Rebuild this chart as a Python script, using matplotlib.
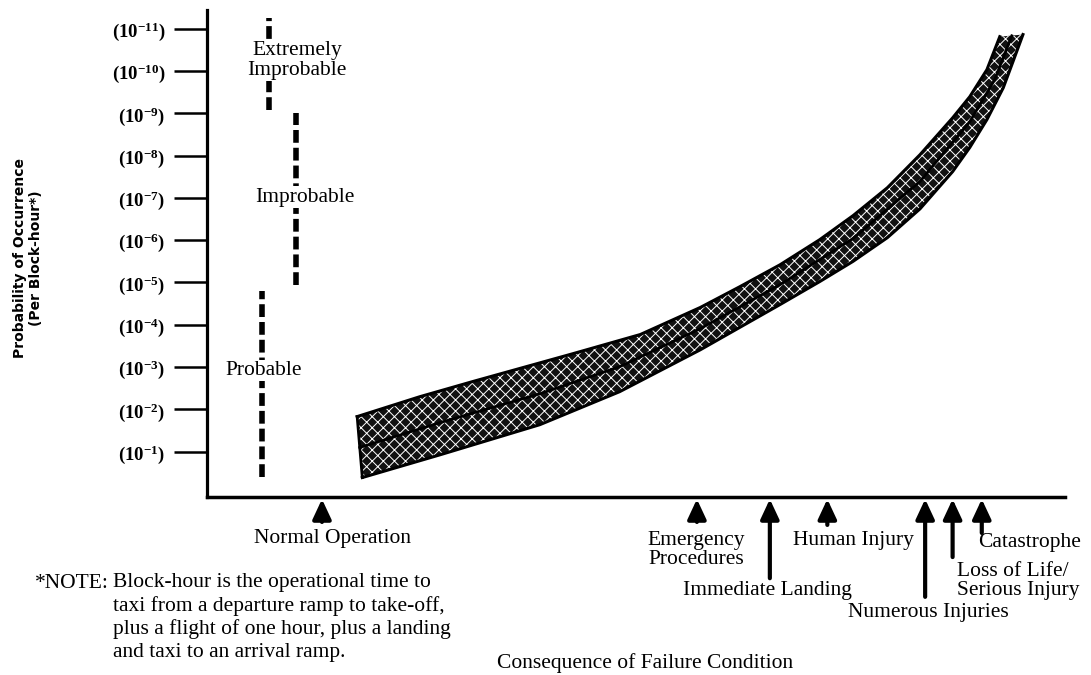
import numpy as np
import matplotlib.pyplot as plt

plt.rcParams['mathtext.fontset'] = 'custom'
plt.rcParams['mathtext.bf'] = 'Liberation Serif:bold'
plt.rcParams['mathtext.rm'] = 'Liberation Serif'
plt.rcParams['hatch.linewidth'] = 0.7

W, H = 1091, 675

# probability levels (exponent k of 10^-k), 1 at bottom .. 11 at top
levels = list(range(1, 12))
level_labels = [r'$\mathbf{(10^{-%d})}$' % k for k in levels]

# band of failure conditions: x = consequence (0..100), y = k
upper_x = [17.5, 24.8, 31.0, 42.7, 50.5, 57.5, 62.1, 66.8, 71.4, 75.3, 79.3, 83.1, 86.9, 88.9, 90.9, 92.4]
upper_k = [1.83, 2.30, 2.66, 3.32, 3.77, 4.41, 4.90, 5.42, 6.01, 6.58, 7.24, 8.02, 8.89, 9.39, 10.03, 10.81]
mid_x = [17.8, 27.2, 38.8, 48.1, 57.5, 66.8, 75.3, 83.1, 88.9, 91.8, 93.8]
mid_k = [1.10, 1.69, 2.37, 3.01, 3.91, 4.95, 6.04, 7.39, 8.80, 9.79, 10.83]
lower_x = [18.1, 27.2, 38.8, 48.1, 57.5, 66.8, 71.4, 75.3, 79.3, 83.1, 86.9, 88.9, 90.9, 92.8, 93.9, 95.1]
lower_k = [0.39, 0.93, 1.64, 2.42, 3.41, 4.48, 5.02, 5.50, 6.06, 6.74, 7.62, 8.19, 8.85, 9.60, 10.20, 10.86]

# probability classes: (label, x, k_bottom, k_top)
class_names = ['Probable', 'Improbable', 'Extremely\nImprobable']
class_x = [6.4, 10.4, 7.2]
class_k0 = [0.40, 4.94, 9.08]
class_k1 = [4.80, 9.00, 11.25]

# consequences along the x axis
conseq_names = ['Normal Operation', 'Emergency\nProcedures', 'Immediate Landing',
                'Human Injury', 'Numerous Injuries', 'Loss of Life/\nSerious Injury',
                'Catastrophe']
conseq_x = [13.4, 57.1, 65.6, 72.3, 83.7, 86.9, 90.3]

fig = plt.figure(figsize=(W / 100, H / 100), dpi=100)
ax = fig.add_axes([207 / W, 1 - 497 / H, (1065 - 207) / W, (497 - 10) / H])
ax.set_xlim(0, 100)
ax.set_ylim(-0.07, 11.44)

for s in ['top', 'right']:
    ax.spines[s].set_visible(False)
ax.spines['left'].set_linewidth(2.3)
ax.spines['bottom'].set_linewidth(2.5)
ax.set_xticks([])
ax.set_yticks(levels)
ax.set_yticklabels(level_labels, fontsize=13.5)
ax.tick_params(axis='y', direction='out', length=24, width=1.8, pad=6)

# the shaded band
poly_x = np.concatenate([upper_x, lower_x[::-1]])
poly_y = np.concatenate([upper_k, lower_k[::-1]])
ax.fill(poly_x, poly_y, facecolor='#111111', edgecolor='white', hatch='xxx', lw=0)
ax.plot(upper_x, upper_k, color='black', lw=2.2, solid_joinstyle='round')
ax.plot(mid_x, mid_k, color='black', lw=2.0, solid_joinstyle='round')
ax.plot(lower_x, lower_k, color='black', lw=2.2, solid_joinstyle='round')
ax.plot([upper_x[0], lower_x[0]], [upper_k[0], lower_k[0]], color='black', lw=2.0)

# dashed probability class lines
for x, k0, k1 in zip(class_x, class_k0, class_k1):
    ax.plot([x, x], [k0, k1], color='black', lw=4.0, dashes=(2.3, 0.9),
            solid_capstyle='butt', dash_capstyle='butt')

serif = 'Liberation Serif'
fs = 15.5
txt = dict(family=serif, fontsize=fs, color='black')
mask = dict(facecolor='white', edgecolor='none', pad=1)
ax.text(6.6, 2.92, class_names[0], ha='center', va='center', bbox=mask, **txt)
ax.text(11.4, 7.02, class_names[1], ha='center', va='center', bbox=mask, **txt)
ax.text(10.5, 10.25, class_names[2], ha='center', va='center', linespacing=1.1,
        bbox=mask, **txt)

# arrows under the x axis
tails = [-0.66, -0.66, -1.99, -0.73, -2.43, -1.49, -0.92]
for x, t in zip(conseq_x, tails):
    ax.annotate('', xy=(x, -0.12), xytext=(x, t), annotation_clip=False,
                arrowprops=dict(arrowstyle='-|>,head_length=0.6,head_width=0.28',
                                lw=3, color='black', mutation_scale=20,
                                shrinkA=0, shrinkB=0))


def ftext(px, py, s, **kw):
    fig.text(px / W, 1 - py / H, s, **kw)


ftext(332, 538, conseq_names[0], ha='center', va='center', **txt)
ftext(696, 550, conseq_names[1], ha='center', va='center', linespacing=0.95, **txt)
ftext(767, 590, conseq_names[2], ha='center', va='center', **txt)
ftext(793, 540, conseq_names[3], ha='left', va='center', **txt)
ftext(848, 612, conseq_names[4], ha='left', va='center', **txt)
ftext(957, 581, conseq_names[5], ha='left', va='center', linespacing=1.05, **txt)
ftext(978, 543, conseq_names[6], ha='left', va='center', **txt)

ftext(35, 583, '*NOTE:', ha='left', va='center', **txt)
note = ['Block-hour is the operational time to',
        'taxi from a departure ramp to take-off,',
        'plus a flight of one hour, plus a landing',
        'and taxi to an arrival ramp.']
for i, line in enumerate(note):
    ftext(113, 583 + i * 23, line, ha='left', va='center', **txt)

ftext(645, 663, 'Consequence of Failure Condition', ha='center', va='center', **txt)

ftext(20, 258, 'Probability of Occurrence', rotation=90, ha='center', va='center',
      fontsize=10, fontweight='bold', family='DejaVu Sans')
ftext(36, 258, '(Per Block-hour*)', rotation=90, ha='center', va='center',
      fontsize=10, fontweight='bold', family='DejaVu Sans')

fig.savefig('out.png', dpi=100, facecolor='white')
